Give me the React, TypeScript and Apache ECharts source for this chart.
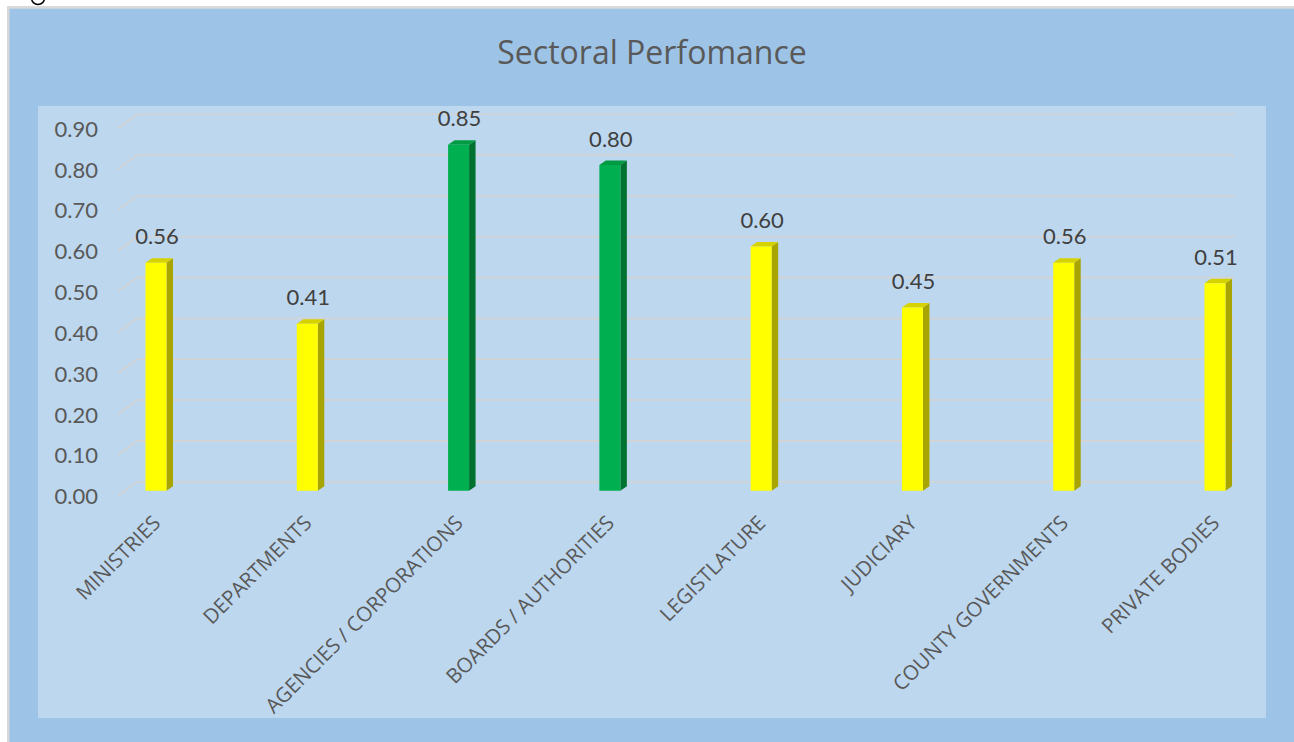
import React, { useEffect, useRef } from "react";
import * as echarts from "echarts";

const categories = [
  "MINISTRIES",
  "DEPARTMENTS",
  "AGENCIES / CORPORATIONS",
  "BOARDS / AUTHORITIES",
  "LEGISTLATURE",
  "JUDICIARY",
  "COUNTY GOVERNMENTS",
  "PRIVATE BODIES",
];
const scores = [0.56, 0.41, 0.85, 0.8, 0.6, 0.45, 0.56, 0.51];
const barGroup = ["yellow", "yellow", "green", "green", "yellow", "yellow", "yellow", "yellow"];
const yTicks = [0, 0.1, 0.2, 0.3, 0.4, 0.5, 0.6, 0.7, 0.8, 0.9];
const titleText = "Sectoral Perfomance";

const palette: Record<string, { front: string; side: string; top: string }> = {
  yellow: { front: "#FFFF00", side: "#A8A400", top: "#D6D200" },
  green: { front: "#00B050", side: "#00722F", top: "#009A42" },
};

const FONT = "'Open Sans', Lato, sans-serif";
const NUMFONT = "Lato, 'Open Sans', sans-serif";

export default function App() {
  const ref = useRef<HTMLDivElement>(null);
  useEffect(() => {
    if (!ref.current) return;
    const chart = echarts.init(ref.current, null, { renderer: "svg" });
    const option: any = {
      animation: false,
      backgroundColor: "#ffffff",
      graphic: [
        { type: "rect", z: -10, shape: { x: 7, y: 6, width: 1300, height: 750 }, style: { fill: "#D9D9D9" }, silent: true },
        { type: "rect", z: -9, shape: { x: 9.5, y: 8.7, width: 1300, height: 750 }, style: { fill: "#9DC3E6" }, silent: true },
        { type: "rect", z: -8, shape: { x: 38, y: 106, width: 1228, height: 612 }, style: { fill: "#BDD7EE" }, silent: true },
        { type: "arc", shape: { cx: 38, cy: -2, r: 6.5, startAngle: 0, endAngle: Math.PI }, style: { stroke: "#000", lineWidth: 1.5, fill: "none" }, silent: true },
        {
          type: "text",
          x: 652,
          y: 51,
          style: {
            text: titleText,
            textAlign: "center",
            textVerticalAlign: "middle",
            fontSize: 32,
            fontFamily: FONT,
            fill: "#595959",
          },
        },
      ],
      grid: [
        { left: 118, right: 60, top: 128.3, height: 367.4 },
        { left: 156, right: 79, top: 124.4, height: 366.3 },
      ],
      xAxis: [
        { gridIndex: 0, type: "value", min: 0, max: 1, show: false },
        {
          gridIndex: 1,
          type: "category",
          data: categories,
          boundaryGap: false,
          axisLine: { show: false },
          axisTick: { show: false },
          splitLine: { show: false },
          axisLabel: {
            interval: 0,
            rotate: 45,
            margin: 28,
            color: "#595959",
            fontSize: 20.5,
            fontFamily: FONT,
          },
        },
      ],
      yAxis: [
        {
          gridIndex: 0,
          type: "value",
          min: 0,
          max: 0.9,
          interval: 0.1,
          axisLine: { show: false },
          axisTick: { show: false },
          splitLine: { show: false },
          axisLabel: {
            margin: 20,
            color: "#595959",
            fontSize: 22,
            fontFamily: NUMFONT,
            formatter: (v: number) => v.toFixed(2),
          },
        },
        { gridIndex: 1, type: "value", min: 0, max: 0.9, show: false },
      ],
      series: [
        {
          type: "custom",
          xAxisIndex: 0,
          yAxisIndex: 0,
          silent: true,
          clip: false,
          z: 1,
          data: yTicks.map((v) => [0, v]),
          renderItem: (_p: any, api: any) => {
            const a = api.coord([0, api.value(1)]);
            const b = api.coord([1, api.value(1)]);
            return {
              type: "polyline",
              shape: {
                points: [
                  [a[0], a[1]],
                  [a[0] + 19, a[1] - 14],
                  [b[0], a[1] - 14],
                ],
              },
              style: { stroke: "#D4D4D4", lineWidth: 1.6, fill: "none" },
            };
          },
        },
        {
          type: "custom",
          xAxisIndex: 1,
          yAxisIndex: 1,
          clip: false,
          z: 5,
          data: scores.map((v, i) => [i, v]),
          renderItem: (p: any, api: any) => {
            const idx = api.value(0);
            const val = api.value(1);
            const top = api.coord([idx, val]);
            const base = api.coord([idx, 0]);
            const cx = top[0];
            const hw = 10.5;
            const dx = 6.5;
            const dy = -4.5;
            const c = palette[barGroup[p.dataIndex]];
            const l = cx - hw;
            const r = cx + hw;
            return {
              type: "group",
              children: [
                {
                  type: "polygon",
                  shape: { points: [[r, top[1]], [r + dx, top[1] + dy], [r + dx, base[1] + dy], [r, base[1]]] },
                  style: { fill: c.side },
                },
                {
                  type: "polygon",
                  shape: { points: [[l, top[1]], [l + dx, top[1] + dy], [r + dx, top[1] + dy], [r, top[1]]] },
                  style: { fill: c.top },
                },
                {
                  type: "rect",
                  shape: { x: l, y: top[1], width: hw * 2, height: base[1] - top[1] },
                  style: { fill: c.front },
                },
                {
                  type: "text",
                  x: cx + 1,
                  y: top[1] - 16,
                  style: {
                    text: Number(val).toFixed(2),
                    textAlign: "center",
                    textVerticalAlign: "bottom",
                    fontSize: 22,
                    fontFamily: NUMFONT,
                    fill: "#404040",
                  },
                },
              ],
            };
          },
        },
      ],
    };
    chart.setOption(option);
    return () => chart.dispose();
  }, []);
  return (
    <div
      ref={ref}
      style={{ position: "absolute", left: 0, top: 0, width: 1294, height: 742 }}
    />
  );
}
